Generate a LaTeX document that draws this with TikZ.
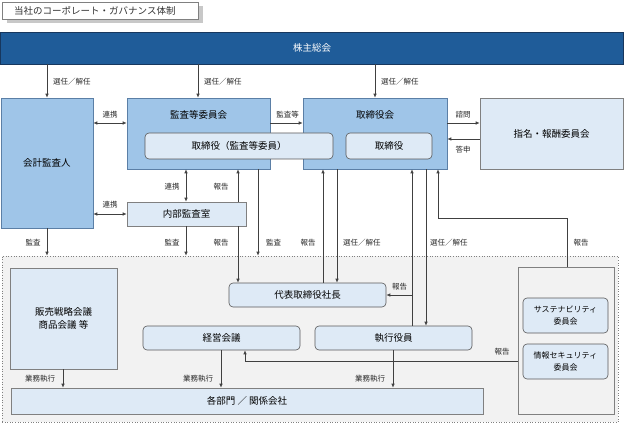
\documentclass[tikz,border=0pt]{standalone}
\usepackage{fontspec}
\setmainfont{Noto Sans CJK JP}
\usetikzlibrary{arrows.meta}
\definecolor{darkbar}{HTML}{1F5C99}
\definecolor{darkbarb}{HTML}{17375E}
\definecolor{midblue}{HTML}{9FC5E8}
\definecolor{midblueb}{HTML}{5B7FA6}
\definecolor{lightblue}{HTML}{DEEAF6}
\definecolor{lightb}{HTML}{808080}
\definecolor{roundb}{HTML}{595959}
\definecolor{regionfill}{HTML}{F2F2F2}
\definecolor{linec}{HTML}{404040}
\definecolor{shadowc}{HTML}{C8C8C8}
\begin{document}
\begin{tikzpicture}[x=1pt,y=-1pt,
 box/.style={draw, line width=0.6pt, inner sep=0pt, font=\fontsize{9.5}{13}\selectfont, align=center},
 midbox/.style={box, fill=midblue, draw=midblueb},
 lightbox/.style={box, fill=lightblue, draw=lightb},
 roundbox/.style={box, fill=lightblue, draw=roundb, rounded corners=4pt},
 ttl/.style={inner sep=0pt, font=\fontsize{9.5}{11}\selectfont},
 lbl/.style={inner sep=0pt, font=\fontsize{7.5}{8}\selectfont, text=black!85},
 ln/.style={draw=linec, line width=0.7pt},
 arr/.style={ln, -{Latex[length=4pt,width=3.5pt]}},
 darr/.style={ln, {Latex[length=4pt,width=3.5pt]}-{Latex[length=4pt,width=3.5pt]}}
]
\useasboundingbox (0,0) rectangle (624,425);
% title
\node[fill=shadowc, minimum width=196pt, minimum height=17pt, inner sep=0pt] (tshadow) at (105,14.5) {};
\node[draw=lightb, fill=white, line width=0.6pt, minimum width=196pt, minimum height=17pt, inner sep=0pt] (titlebox) at (100,10.5) {};
\node[ttl, anchor=west, text=black!80] (title) at (14,10.5) {当社のコーポレート・ガバナンス体制};
% shareholders
\node[box, fill=darkbar, draw=darkbarb, text=white, minimum width=623pt, minimum height=32pt] (soukai) at (312,48) {株主総会};
% region
\node[draw=lightb, dotted, fill=regionfill, line width=0.6pt, minimum width=616pt, minimum height=166pt, inner sep=0pt] (region) at (310,339) {};
% top boxes
\node[midbox, minimum width=92pt, minimum height=130pt] (kaikei) at (47,163) {会計監査人};
\node[midbox, minimum width=143pt, minimum height=71pt] (kansatou) at (198.5,133.5) {};
\node[ttl] (kansatouT) at (198.5,115) {監査等委員会};
\node[midbox, minimum width=144pt, minimum height=71pt] (torikai) at (375,133.5) {};
\node[ttl] (torikaiT) at (375,115) {取締役会};
\node[roundbox, minimum width=188pt, minimum height=26pt] (torik) at (239,146) {取締役（監査等委員）};
\node[roundbox, minimum width=86pt, minimum height=26pt] (tori) at (389,146) {取締役};
\node[lightbox, minimum width=143pt, minimum height=71pt] (shimei) at (551.5,133.5) {指名・報酬委員会};
\node[lightbox, minimum width=119pt, minimum height=24pt] (naibu) at (186.5,214) {内部監査室};
% bottom boxes
\node[lightbox, minimum width=107pt, minimum height=101pt] (hanbai) at (63.5,318.5) {販売戦略会議\\商品会議 等};
\node[roundbox, minimum width=157pt, minimum height=24pt] (daihyo) at (307.5,295) {代表取締役社長};
\node[roundbox, minimum width=157pt, minimum height=24pt] (keiei) at (221.5,338) {経営会議};
\node[roundbox, minimum width=157pt, minimum height=24pt] (shikkou) at (393.5,338) {執行役員};
\node[lightbox, minimum width=472pt, minimum height=26pt] (kakubu) at (247,401) {各部門 ／ 関係会社};
\node[draw=lightb, fill=regionfill, line width=0.6pt, minimum width=96pt, minimum height=147pt, inner sep=0pt] (group) at (566,340.5) {};
\node[roundbox, minimum width=85pt, minimum height=35pt, font=\fontsize{8}{12}\selectfont] (sus) at (565.5,315.5) {サステナビリティ\\委員会};
\node[roundbox, minimum width=85pt, minimum height=35pt, font=\fontsize{8}{12}\selectfont] (joho) at (565.5,361.5) {情報セキュリティ\\委員会};
% shareholder arrows
\draw[arr] (47,0 |- soukai.south) -- (47,0 |- kaikei.north);
\node[lbl, anchor=west] (l1) at (53,82) {選任／解任};
\draw[arr] (198,0 |- soukai.south) -- (198,0 |- kansatou.north);
\node[lbl, anchor=west] (l2) at (204,82) {選任／解任};
\draw[arr] (375,0 |- soukai.south) -- (375,0 |- torikai.north);
\node[lbl, anchor=west] (l3) at (381,82) {選任／解任};
% horizontal links
\draw[darr] (kaikei.east |- 0,123) -- (kansatou.west |- 0,123);
\node[lbl] (l4) at (110,115) {連携};
\draw[arr] (kansatou.east |- 0,123) -- (torikai.west |- 0,123);
\node[lbl] (l5) at (287.5,115) {監査等};
\draw[arr] (torikai.east |- 0,123) -- (shimei.west |- 0,123);
\node[lbl] (l6) at (463,115) {諮問};
\draw[arr] (shimei.west |- 0,139) -- (torikai.east |- 0,139);
\node[lbl] (l7) at (463,150) {答申};
\draw[darr] (kaikei.east |- 0,214) -- (naibu.west |- 0,214);
\node[lbl] (l8) at (110,205) {連携};
% audit committee / internal audit
\draw[darr] (186,0 |- kansatou.south) -- (186,0 |- naibu.north);
\node[lbl] (l9) at (172,187) {連携};
\draw[arr] (238,0 |- naibu.north) -- (238,0 |- kansatou.south);
\node[lbl] (l10) at (221,187) {報告};
\draw[arr] (238,0 |- naibu.south) -- (238,0 |- daihyo.north);
\node[lbl] (l11) at (221,243) {報告};
\draw[arr] (47,0 |- kaikei.south) -- (47,0 |- region.north);
\node[lbl] (l12) at (33,243) {監査};
\draw[arr] (186,0 |- naibu.south) -- (186,0 |- region.north);
\node[lbl] (l13) at (172,243) {監査};
\draw[arr] (258,0 |- kansatou.south) -- (258,0 |- region.north);
\node[lbl] (l14) at (273.5,243) {監査};
% board links
\draw[arr] (323,0 |- daihyo.north) -- (323,0 |- torikai.south);
\node[lbl] (l15) at (308,243) {報告};
\draw[arr] (337,0 |- torikai.south) -- (337,0 |- daihyo.north);
\node[lbl, anchor=west] (l16) at (343,243) {選任／解任};
\draw[arr] (412,0 |- shikkou.north) -- (412,0 |- torikai.south);
\coordinate (j1) at (412,295);
\draw[arr] (j1) -- (daihyo.east |- j1);
\node[lbl] (l17) at (399.5,287) {報告};
\draw[arr] (426,0 |- torikai.south) -- (426,0 |- shikkou.north);
\node[lbl, anchor=west] (l18) at (430,243) {選任／解任};
\draw[arr] (567,0 |- group.north) -- (567,218) -- (438,218) -- (438,0 |- torikai.south);
\node[lbl] (l19) at (581,243) {報告};
\draw[arr] (group.west |- 0,361) -- (245,361) -- (245,0 |- keiei.south);
\node[lbl] (l20) at (502,352) {報告};
% execution
\draw[arr] (63,0 |- hanbai.south) -- (63,0 |- kakubu.north);
\node[lbl] (l21) at (40,379) {業務執行};
\draw[arr] (221,0 |- keiei.south) -- (221,0 |- kakubu.north);
\node[lbl] (l22) at (198,379) {業務執行};
\draw[arr] (393,0 |- shikkou.south) -- (393,0 |- kakubu.north);
\node[lbl] (l23) at (370,379) {業務執行};
\end{tikzpicture}
\end{document}
